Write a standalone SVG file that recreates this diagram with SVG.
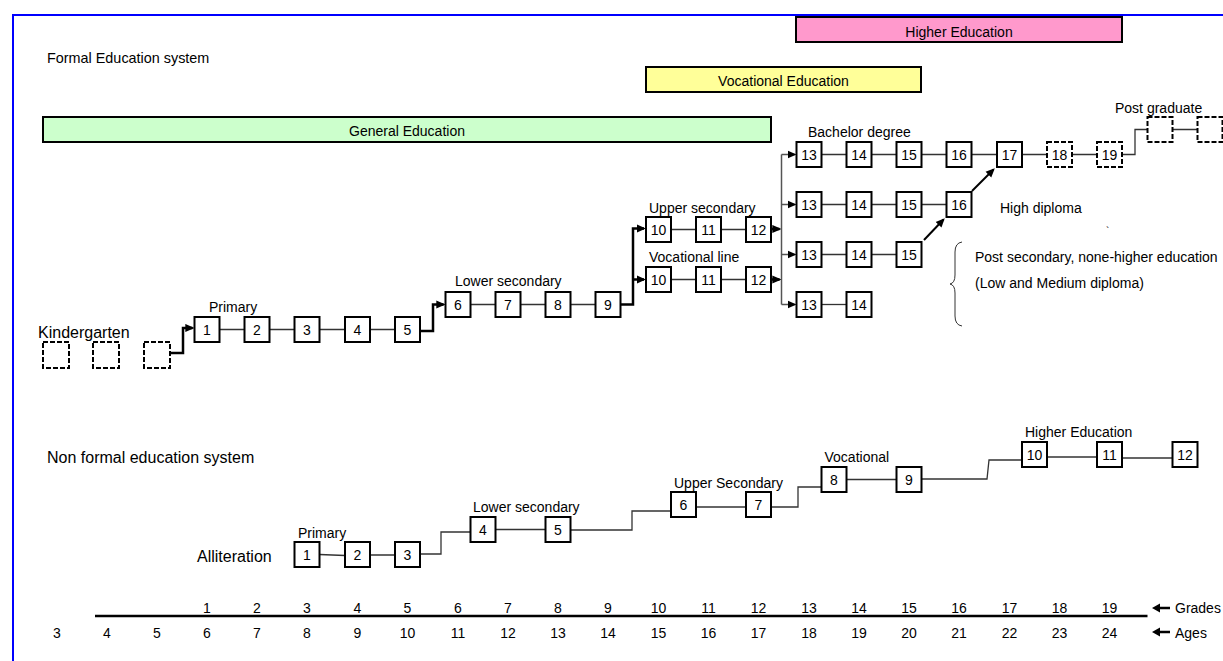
<svg xmlns="http://www.w3.org/2000/svg" width="1223" height="661" viewBox="0 0 1223 661">
<style>
.t{font-family:"Liberation Sans",Arial,sans-serif;font-size:14px;fill:#000}
.big{font-size:16px}
.c{text-anchor:middle}
.box{fill:#fff;stroke:#000;stroke-width:2}
.dbox{fill:none;stroke:#000;stroke-width:2;stroke-dasharray:5 2}
.ln{fill:none;stroke:#333;stroke-width:1.3}
.thk{fill:none;stroke:#000;stroke-width:2.5}
.gry{fill:none;stroke:#555;stroke-width:1.5}
.bar{stroke:#000;stroke-width:2}
</style>
<defs>
<marker id="ah" markerUnits="userSpaceOnUse" markerWidth="9" markerHeight="9" viewBox="0 0 10 10" refX="8" refY="5" orient="auto">
<path d="M0,0.5 L10,5 L0,9.5 z" fill="#000"/>
</marker>
</defs>
<path d="M13,661 V15 H1223" fill="none" stroke="#0000FF" stroke-width="2"/>

<g id="bars">
<rect class="bar" x="796" y="17" width="326" height="25" fill="#FF99CC"/>
<text class="t c" x="959" y="37">Higher Education</text>
<rect class="bar" x="646" y="67" width="275" height="25" fill="#FFFF99"/>
<text class="t c" x="783.5" y="86">Vocational Education</text>
<rect class="bar" x="43" y="117" width="728" height="25" fill="#CCFFCC"/>
<text class="t c" x="407" y="136">General Education</text>
</g>

<g id="labels">
<text class="t" x="47" y="63" style="font-size:14.4px">Formal Education system</text>
<text class="t big" x="38" y="338">Kindergarten</text>
<text class="t" x="209" y="312">Primary</text>
<text class="t" x="455" y="286">Lower secondary</text>
<text class="t" x="649" y="213">Upper secondary</text>
<text class="t" x="649" y="262">Vocational line</text>
<text class="t" x="808" y="137">Bachelor degree</text>
<text class="t" x="1115" y="113">Post graduate</text>
<text class="t" x="1000" y="213">High diploma</text>
<text class="t" x="1106" y="235" style="font-size:10px">`</text>
<text class="t" x="975" y="262">Post secondary, none-higher education</text>
<text class="t" x="975" y="288">(Low and Medium diploma)</text>
<text class="t big" x="47" y="463">Non formal education system</text>
<text class="t big" x="197" y="562">Alliteration</text>
<text class="t" x="298" y="538">Primary</text>
<text class="t" x="473" y="512">Lower secondary</text>
<text class="t" x="674" y="488">Upper Secondary</text>
<text class="t" x="824.5" y="462">Vocational</text>
<text class="t" x="1025" y="437">Higher Education</text>
</g>

<g id="connectors">
<!-- formal thin -->
<path class="ln" d="M219.5,329.5 H244.5 M269.5,329.5 H294.5 M319.5,329.5 H345 M370,329.5 H395"/>
<path class="ln" d="M470.5,304.5 H495.5 M520.5,304.5 H545.5 M570.5,304.5 H595.5"/>
<path class="ln" d="M671,229.5 H696 M721,229.5 H746 M671,279.5 H696 M721,279.5 H746"/>
<path class="ln" d="M821.5,154.5 H846.5 M871.5,154.5 H896.5 M921.5,154.5 H946.5 M971.5,154.5 H997 M1022,154.5 H1047 M1072,154.5 H1097"/>
<path class="ln" d="M821.5,204.5 H846.5 M871.5,204.5 H896.5 M921.5,204.5 H946.5"/>
<path class="ln" d="M821.5,254.5 H846.5 M871.5,254.5 H896.5"/>
<path class="ln" d="M821.5,304.5 H846.5"/>
<path class="ln" d="M1122,154.5 H1135 V129.5 H1147.5 M1172.5,129.5 H1197.5"/>
<!-- formal thick arrows -->
<path class="thk" d="M170,353 H183 V328 H192.5" marker-end="url(#ah)"/>
<path class="thk" d="M420,331 H433 V304.5 H443.5" marker-end="url(#ah)"/>
<path class="thk" d="M620.5,304.5 H633 V228.5 H644" marker-end="url(#ah)"/>
<path class="thk" d="M633,279.5 H644" marker-end="url(#ah)"/>
<path class="thk" d="M771,229 H779.5" marker-end="url(#ah)"/>
<path class="thk" d="M771,279.5 H779.5" marker-end="url(#ah)"/>
<path class="gry" d="M781.5,154.5 V304.5"/>
<path class="gry" d="M781.5,154.5 H794.7" marker-end="url(#ah)"/>
<path class="gry" d="M781.5,204.5 H794.7" marker-end="url(#ah)"/>
<path class="gry" d="M781.5,254.5 H794.7" marker-end="url(#ah)"/>
<path class="gry" d="M781.5,304.5 H794.7" marker-end="url(#ah)"/>
<path class="thk" style="stroke-width:2" d="M924,240 L943.5,219.5" marker-end="url(#ah)"/>
<path class="thk" style="stroke-width:2" d="M972,191 L993.5,169.5" marker-end="url(#ah)"/>
<!-- brace -->
<path d="M962,242 Q955,243 955,252 V275 Q955,283 950,284 Q955,285 955,293 V316 Q955,325 962,326" fill="none" stroke="#333" stroke-width="1"/>
<!-- non formal -->
<path class="ln" d="M319.5,554.5 L345,555.5 M370,555 H395"/>
<path class="ln" d="M420,554 H441 V532 H470.5"/>
<path class="ln" d="M495.5,529.5 H545.5"/>
<path class="ln" d="M570.5,530 H632 V511 H671"/>
<path class="ln" d="M696,507 H746"/>
<path class="ln" d="M771,507 H798 V487 H821.5"/>
<path class="ln" d="M846.5,479.5 H896.5"/>
<path class="ln" d="M921.5,479 H987 L989,460 H1022"/>
<path class="ln" d="M1047,457 H1097 M1122,458 H1172.5"/>
</g>

<g id="kg1"><rect class="dbox" x="43" y="342" width="26" height="26"/></g>
<g id="kg2"><rect class="dbox" x="93" y="342" width="26" height="26"/></g>
<g id="kg3"><rect class="dbox" x="144" y="342" width="26" height="26"/></g>

<g id="p1"><rect class="box" x="194.5" y="317" width="25" height="25"/><text class="t c" x="207" y="334.5">1</text></g>
<g id="p2"><rect class="box" x="244.5" y="317" width="25" height="25"/><text class="t c" x="257" y="334.5">2</text></g>
<g id="p3"><rect class="box" x="294.5" y="317" width="25" height="25"/><text class="t c" x="307" y="334.5">3</text></g>
<g id="p4"><rect class="box" x="345" y="317" width="25" height="25"/><text class="t c" x="357.5" y="334.5">4</text></g>
<g id="p5"><rect class="box" x="395" y="317" width="25" height="25"/><text class="t c" x="407.5" y="334.5">5</text></g>

<g id="l6"><rect class="box" x="445.5" y="292" width="25" height="25"/><text class="t c" x="458" y="309.5">6</text></g>
<g id="l7"><rect class="box" x="495.5" y="292" width="25" height="25"/><text class="t c" x="508" y="309.5">7</text></g>
<g id="l8"><rect class="box" x="545.5" y="292" width="25" height="25"/><text class="t c" x="558" y="309.5">8</text></g>
<g id="l9"><rect class="box" x="595.5" y="292" width="25" height="25"/><text class="t c" x="608" y="309.5">9</text></g>

<g id="u10"><rect class="box" x="646" y="217" width="25" height="25"/><text class="t c" x="658.5" y="234.5">10</text></g>
<g id="u11"><rect class="box" x="696" y="217" width="25" height="25"/><text class="t c" x="708.5" y="234.5">11</text></g>
<g id="u12"><rect class="box" x="746" y="217" width="25" height="25"/><text class="t c" x="758.5" y="234.5">12</text></g>
<g id="v10"><rect class="box" x="646" y="267" width="25" height="25"/><text class="t c" x="658.5" y="284.5">10</text></g>
<g id="v11"><rect class="box" x="696" y="267" width="25" height="25"/><text class="t c" x="708.5" y="284.5">11</text></g>
<g id="v12"><rect class="box" x="746" y="267" width="25" height="25"/><text class="t c" x="758.5" y="284.5">12</text></g>

<g id="r1-13"><rect class="box" x="796.5" y="142" width="25" height="25"/><text class="t c" x="809" y="159.5">13</text></g>
<g id="r1-14"><rect class="box" x="846.5" y="142" width="25" height="25"/><text class="t c" x="859" y="159.5">14</text></g>
<g id="r1-15"><rect class="box" x="896.5" y="142" width="25" height="25"/><text class="t c" x="909" y="159.5">15</text></g>
<g id="r1-16"><rect class="box" x="946.5" y="142" width="25" height="25"/><text class="t c" x="959" y="159.5">16</text></g>
<g id="r1-17"><rect class="box" x="997" y="142" width="25" height="25"/><text class="t c" x="1009.5" y="159.5">17</text></g>
<g id="r1-18"><rect class="dbox" x="1047" y="142" width="25" height="25"/><text class="t c" x="1059.5" y="159.5">18</text></g>
<g id="r1-19"><rect class="dbox" x="1097" y="142" width="25" height="25"/><text class="t c" x="1109.5" y="159.5">19</text></g>
<g id="pg1"><rect class="dbox" x="1147.5" y="117" width="25" height="25"/></g>
<g id="pg2"><rect class="dbox" x="1197.5" y="117" width="25" height="25"/></g>

<g id="r2-13"><rect class="box" x="796.5" y="192" width="25" height="25"/><text class="t c" x="809" y="209.5">13</text></g>
<g id="r2-14"><rect class="box" x="846.5" y="192" width="25" height="25"/><text class="t c" x="859" y="209.5">14</text></g>
<g id="r2-15"><rect class="box" x="896.5" y="192" width="25" height="25"/><text class="t c" x="909" y="209.5">15</text></g>
<g id="r2-16"><rect class="box" x="946.5" y="192" width="25" height="25"/><text class="t c" x="959" y="209.5">16</text></g>

<g id="r3-13"><rect class="box" x="796.5" y="242" width="25" height="25"/><text class="t c" x="809" y="259.5">13</text></g>
<g id="r3-14"><rect class="box" x="846.5" y="242" width="25" height="25"/><text class="t c" x="859" y="259.5">14</text></g>
<g id="r3-15"><rect class="box" x="896.5" y="242" width="25" height="25"/><text class="t c" x="909" y="259.5">15</text></g>

<g id="r4-13"><rect class="box" x="796.5" y="292" width="25" height="25"/><text class="t c" x="809" y="309.5">13</text></g>
<g id="r4-14"><rect class="box" x="846.5" y="292" width="25" height="25"/><text class="t c" x="859" y="309.5">14</text></g>

<g id="nf1"><rect class="box" x="294.5" y="542" width="25" height="25"/><text class="t c" x="307" y="559.5">1</text></g>
<g id="nf2"><rect class="box" x="345" y="542" width="25" height="25"/><text class="t c" x="357.5" y="559.5">2</text></g>
<g id="nf3"><rect class="box" x="395" y="542" width="25" height="25"/><text class="t c" x="407.5" y="559.5">3</text></g>
<g id="nf4"><rect class="box" x="470.5" y="517" width="25" height="25"/><text class="t c" x="483" y="534.5">4</text></g>
<g id="nf5"><rect class="box" x="545.5" y="517" width="25" height="25"/><text class="t c" x="558" y="534.5">5</text></g>
<g id="nf6"><rect class="box" x="671" y="492" width="25" height="25"/><text class="t c" x="683.5" y="509.5">6</text></g>
<g id="nf7"><rect class="box" x="746" y="492" width="25" height="25"/><text class="t c" x="758.5" y="509.5">7</text></g>
<g id="nf8"><rect class="box" x="821.5" y="467" width="25" height="25"/><text class="t c" x="834" y="484.5">8</text></g>
<g id="nf9"><rect class="box" x="896.5" y="467" width="25" height="25"/><text class="t c" x="909" y="484.5">9</text></g>
<g id="nf10"><rect class="box" x="1022" y="442" width="25" height="25"/><text class="t c" x="1034.5" y="459.5">10</text></g>
<g id="nf11"><rect class="box" x="1097" y="442" width="25" height="25"/><text class="t c" x="1109.5" y="459.5">11</text></g>
<g id="nf12"><rect class="box" x="1172.5" y="442" width="25" height="25"/><text class="t c" x="1185" y="459.5">12</text></g>

<g id="axis">
<path d="M95,616 H1147.5" stroke="#000" stroke-width="2.5"/>
<g class="t c">
<text x="207" y="613">1</text><text x="257" y="613">2</text><text x="307" y="613">3</text><text x="357.5" y="613">4</text><text x="407.5" y="613">5</text><text x="458" y="613">6</text><text x="508" y="613">7</text><text x="558" y="613">8</text><text x="608" y="613">9</text><text x="658.5" y="613">10</text><text x="708.5" y="613">11</text><text x="758.5" y="613">12</text><text x="809" y="613">13</text><text x="859" y="613">14</text><text x="909" y="613">15</text><text x="959" y="613">16</text><text x="1009.5" y="613">17</text><text x="1059.5" y="613">18</text><text x="1109.5" y="613">19</text>
<text x="57" y="637.5">3</text><text x="107" y="637.5">4</text><text x="157" y="637.5">5</text><text x="207" y="637.5">6</text><text x="257" y="637.5">7</text><text x="307" y="637.5">8</text><text x="357.5" y="637.5">9</text><text x="407.5" y="637.5">10</text><text x="458" y="637.5">11</text><text x="508" y="637.5">12</text><text x="558" y="637.5">13</text><text x="608" y="637.5">14</text><text x="658.5" y="637.5">15</text><text x="708.5" y="637.5">16</text><text x="758.5" y="637.5">17</text><text x="809" y="637.5">18</text><text x="859" y="637.5">19</text><text x="909" y="637.5">20</text><text x="959" y="637.5">21</text><text x="1009.5" y="637.5">22</text><text x="1059.5" y="637.5">23</text><text x="1109.5" y="637.5">24</text>
</g>
<path d="M1152,608 L1160,603.5 V606.7 H1170 V609.3 H1160 V612.5 Z" fill="#000"/>
<path d="M1152,632 L1160,627.5 V630.7 H1170 V633.3 H1160 V636.5 Z" fill="#000"/>
<text class="t" x="1175" y="613">Grades</text>
<text class="t" x="1175" y="637.5">Ages</text>
</g>
</svg>
